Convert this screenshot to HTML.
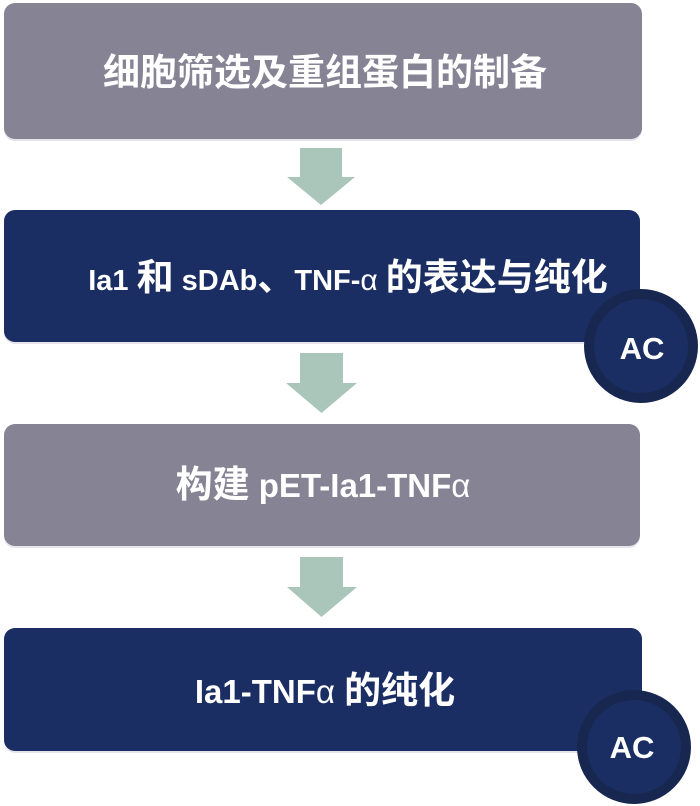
<!DOCTYPE html>
<html>
<head>
<meta charset="utf-8">
<style>
  html,body{margin:0;padding:0;background:#ffffff;}
  body{width:700px;height:806px;overflow:hidden;}
  svg{display:block;}
  .t{font-family:"Liberation Sans","Noto Sans CJK SC",sans-serif;font-weight:bold;fill:#ffffff;}
  .cjk{font-family:"Noto Sans CJK SC","WenQuanYi Zen Hei",sans-serif;font-weight:bold;font-size:37px;}
  .lat{font-family:"Liberation Sans",sans-serif;font-weight:bold;font-size:33px;}
  .al{font-family:"Liberation Sans","DejaVu Sans",sans-serif;font-weight:normal;font-size:33px;}
  .lat2{font-family:"Liberation Sans",sans-serif;font-weight:bold;font-size:29px;}
  .al2{font-family:"Liberation Sans","DejaVu Sans",sans-serif;font-weight:normal;font-size:30px;}
</style>
</head>
<body>
<svg width="700" height="806" viewBox="0 0 700 806" xmlns="http://www.w3.org/2000/svg">
  <!-- shadows -->
  <rect x="4" y="5" width="638" height="136" rx="11" fill="#e4e4ea"/>
  <rect x="4" y="212" width="636" height="132" rx="11" fill="#e4e4ea"/>
  <rect x="4" y="426" width="636" height="122" rx="11" fill="#e4e4ea"/>
  <rect x="4" y="630" width="638" height="123" rx="11" fill="#e4e4ea"/>

  <!-- Box 1 -->
  <rect x="4" y="3" width="638" height="136" rx="11" fill="#868494"/>
  <!-- Arrow 1 -->
  <polygon points="300,148 342,148 342,177 355,177 321,205 287,177 300,177" fill="#aac5ba"/>
  <!-- Box 2 -->
  <rect x="4" y="210" width="636" height="132" rx="11" fill="#1b2e63"/>
  <!-- Arrow 2 -->
  <polygon points="300,353 343,353 343,383 357,383 321.5,413 286,383 300,383" fill="#aac5ba"/>
  <!-- Box 3 -->
  <rect x="4" y="424" width="636" height="122" rx="11" fill="#868494"/>
  <!-- Arrow 3 -->
  <polygon points="300,557 343,557 343,587 357,587 321.5,617 287,587 300,587" fill="#aac5ba"/>
  <!-- Box 4 -->
  <rect x="4" y="628" width="638" height="123" rx="11" fill="#1b2e63"/>

  <!-- Circles -->
  <circle cx="641" cy="346" r="57" fill="#172750"/>
  <circle cx="641" cy="346" r="47" fill="#1b2e63"/>
  <circle cx="634" cy="747" r="57" fill="#172750"/>
  <circle cx="634" cy="747" r="47" fill="#1b2e63"/>

  <!-- Texts -->
  <text class="t" x="325" y="85" text-anchor="middle"><tspan class="cjk">细胞筛选及重组蛋白的制备</tspan></text>

  <text class="t" x="348" y="290" text-anchor="middle"><tspan class="lat2">Ia1 </tspan><tspan class="cjk">和</tspan><tspan class="lat2"> sDAb</tspan><tspan class="cjk">、</tspan><tspan class="lat2">TNF-</tspan><tspan class="al2">α</tspan><tspan class="lat2"> </tspan><tspan class="cjk">的表达与纯化</tspan></text>

  <text class="t" x="323" y="497" text-anchor="middle"><tspan class="cjk">构建</tspan><tspan class="lat"> pET-Ia1-TNF</tspan><tspan class="al">α</tspan></text>

  <text class="t" x="325" y="703" text-anchor="middle"><tspan class="lat">Ia1-TNF</tspan><tspan class="al">α</tspan><tspan class="lat"> </tspan><tspan class="cjk">的纯化</tspan></text>

  <text class="t" x="642" y="359" text-anchor="middle" style="font-size:31px;">AC</text>
  <text class="t" x="632" y="758" text-anchor="middle" style="font-size:31px;">AC</text>
</svg>
</body>
</html>
